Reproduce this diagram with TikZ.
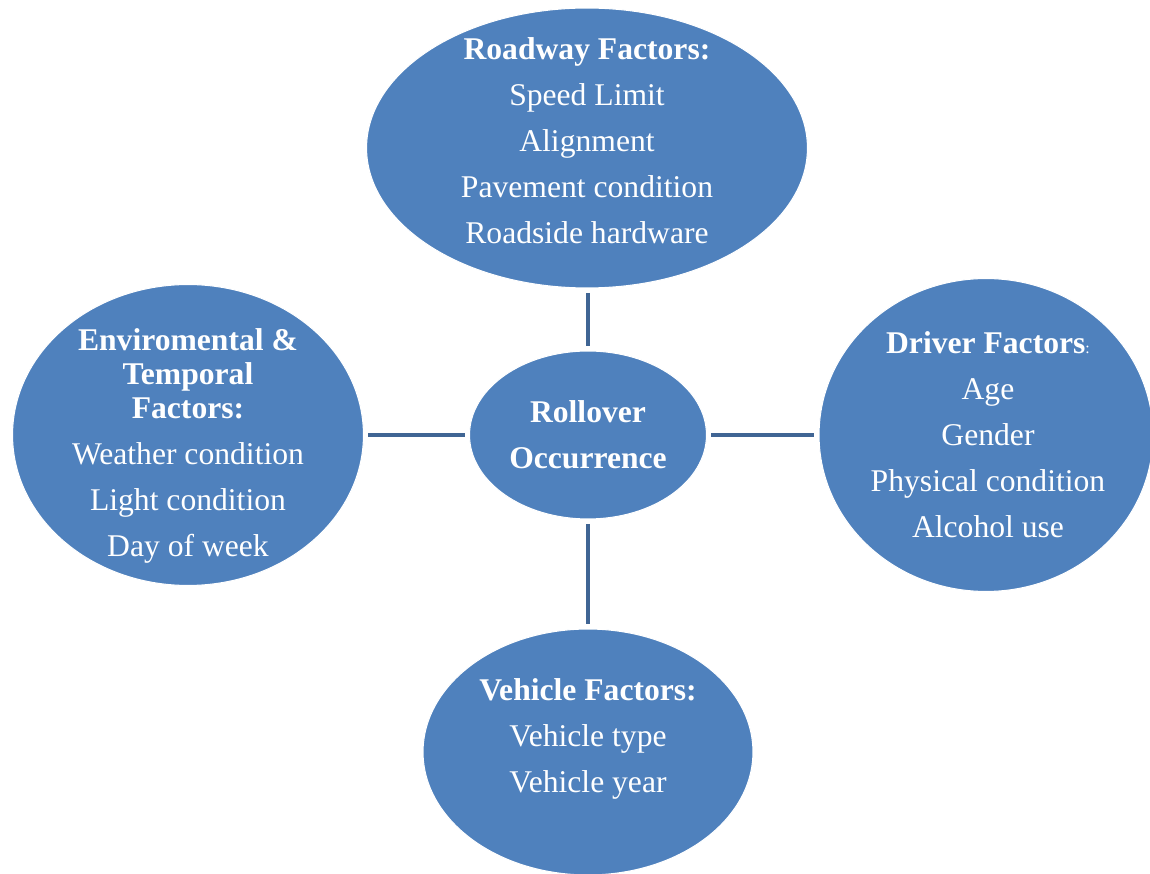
\documentclass[tikz,border=0pt]{standalone}
\usepackage{fontspec}
\setmainfont{Liberation Serif}
\usetikzlibrary{shapes.geometric}
\definecolor{bubble}{RGB}{79,129,189}
\definecolor{linkblue}{RGB}{64,101,148}
\tikzset{
  factor/.style={ellipse, fill=bubble, draw=white, line width=0.6pt, inner sep=0pt},
  factortext/.style={text=white, align=center, font=\fontsize{18}{26.2}\selectfont},
  link/.style={draw=linkblue, line width=2.8pt, shorten <=2.5pt, shorten >=2.5pt}
}

\begin{document}
\begin{tikzpicture}[x=0.02cm, y=-0.02cm]
    \useasboundingbox (0,0) rectangle (1150,874);

    % bubbles
    \node[factor, minimum width=8.82cm, minimum height=5.6cm] (road) at (587,148) {};
    \node[factor, minimum width=7.02cm, minimum height=6.02cm] (env) at (188,435) {};
    \node[factor, minimum width=6.68cm, minimum height=6.26cm] (driver) at (986,435) {};
    \node[factor, minimum width=4.74cm, minimum height=3.36cm] (centre) at (588,435) {};
    \node[factor, minimum width=6.6cm, minimum height=4.92cm] (vehicle) at (588,752) {};

    % texts
    \node[factortext] (roadtxt) at (587,141)
      {\textbf{Roadway Factors:}\\Speed Limit\\Alignment\\Pavement condition\\Roadside hardware};
    \node[factortext] (envtxt) at (188,446)
      {\textbf{Enviromental \&}\\[-6.7pt]\textbf{Temporal}\\[-6.7pt]\textbf{Factors:}\\Weather condition\\Light condition\\Day of week};
    \node[factortext] (drivertxt) at (988,435)
      {\textbf{Driver Factors}{\fontsize{9}{9}\selectfont :}\\Age\\Gender\\Physical condition\\Alcohol use};
    \node[factortext] (centretxt) at (588,435)
      {\textbf{Rollover}\\\textbf{Occurrence}};
    \node[factortext] (vehicletxt) at (588,739)
      {\textbf{Vehicle Factors:}\\Vehicle type\\Vehicle year};

    % links
    \draw[link] (centre.north |- road.south) -- (centre.north);
    \draw[link] (env.east) -- (centre.west);
    \draw[link] (centre.east) -- (driver.west);
    \draw[link] (centre.south) -- (vehicle.north);
\end{tikzpicture}
\end{document}
